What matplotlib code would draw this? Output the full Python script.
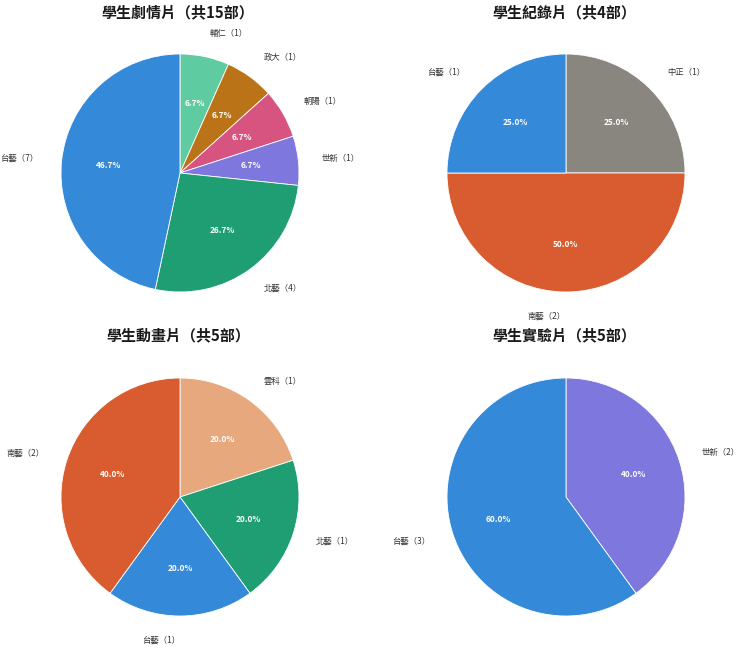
import matplotlib.pyplot as plt

plt.rcParams['font.family'] = ['Noto Sans CJK TC', 'DejaVu Sans']

# 學生劇情片
drama_labels = ['輔仁', '政大', '朝陽', '世新', '北藝', '台藝']
drama_counts = [1, 1, 1, 1, 4, 7]

# 學生紀錄片
doc_labels = ['中正', '南藝', '台藝']
doc_counts = [1, 2, 1]

# 學生動畫片
anim_labels = ['雲科', '北藝', '台藝', '南藝']
anim_counts = [1, 1, 1, 2]

# 學生實驗片
exp_labels = ['世新', '台藝']
exp_counts = [2, 3]

school_colors = {
    '台藝': '#3589d9',
    '北藝': '#1f9e74',
    '輔仁': '#5ecba0',
    '政大': '#ba7417',
    '朝陽': '#d85480',
    '世新': '#7e77dd',
    '中正': '#88867f',
    '南藝': '#d95b30',
    '雲科': '#e6a87c',
}

charts = [
    ('學生劇情片', drama_labels, drama_counts, (180, 173), 12),
    ('學生紀錄片', doc_labels, doc_counts, (566, 173), 12),
    ('學生動畫片', anim_labels, anim_counts, (180, 497), 335),
    ('學生實驗片', exp_labels, exp_counts, (566, 497), 335),
]

W, H = 740, 649
fig = plt.figure(figsize=(W / 100, H / 100), dpi=100)

r = 119  # pie radius in pixels
half = 1.25 * r
for title, labels, counts, (cx, cy), ty in charts:
    ax = fig.add_axes([(cx - half) / W, (H - cy - half) / H, 2 * half / W, 2 * half / H])
    names = [f'{n}（{c}）' for n, c in zip(labels, counts)]
    wedges, texts, autotexts = ax.pie(
        counts, labels=names, colors=[school_colors[n] for n in labels],
        startangle=90, counterclock=False, autopct='%1.1f%%',
        pctdistance=0.6, labeldistance=1.2,
        wedgeprops={'edgecolor': 'white', 'linewidth': 0.6},
        textprops={'fontsize': 6, 'color': '#333333'},
    )
    for t in autotexts:
        t.set_color('white')
        t.set_fontweight('bold')
        t.set_fontsize(6)
    ax.set_xlim(-1.25, 1.25)
    ax.set_ylim(-1.25, 1.25)
    ax.set_aspect('equal')
    fig.text(cx / W - 2 / W, 1 - ty / H, f'{title}（共{sum(counts)}部）',
             ha='center', va='center', fontsize=10.8, fontweight='bold',
             color='#1a1a1a')

fig.savefig('out.png', dpi=100, facecolor='white')
